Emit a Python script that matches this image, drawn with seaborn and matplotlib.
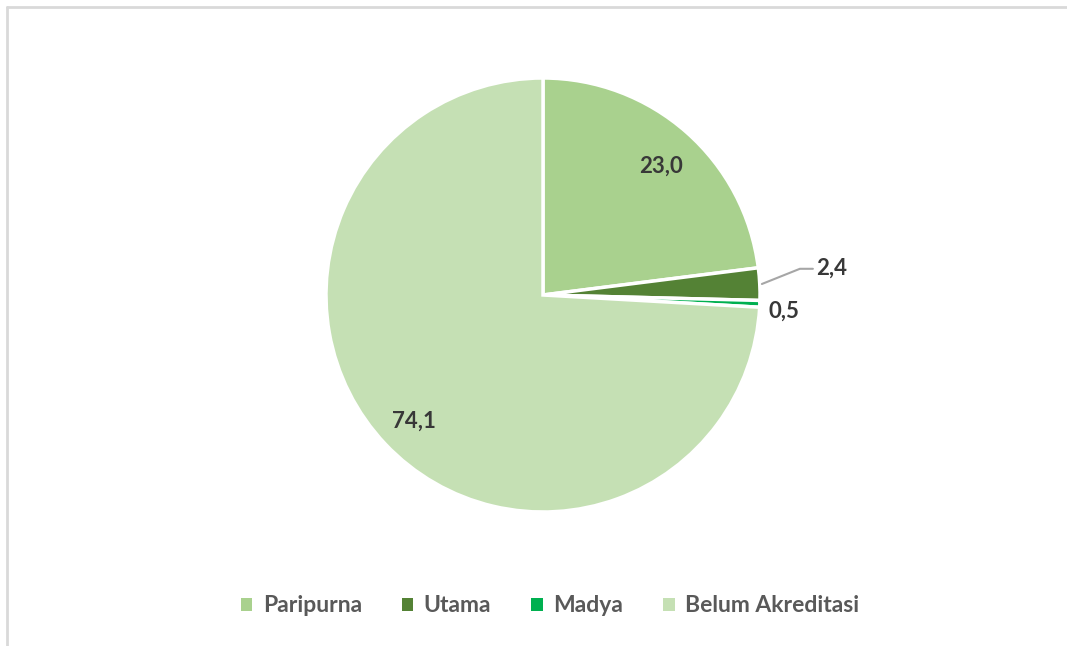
import numpy as np
import matplotlib
matplotlib.use("Agg")
import matplotlib.pyplot as plt
import seaborn as sns
from matplotlib.lines import Line2D
from matplotlib.patches import Patch

categories = ["Paripurna", "Utama", "Madya", "Belum Akreditasi"]
values = [23.0, 2.4, 0.5, 74.1]
value_labels = ["23,0", "2,4", "0,5", "74,1"]
colors = ["#A9D18E", "#548235", "#00B050", "#C5E0B4"]

sns.set_theme(style="white")
plt.rcParams['font.family'] = ['Lato', 'DejaVu Sans']

W, H = 1067, 646
fig = plt.figure(figsize=(W / 100, H / 100), dpi=100)
cx, cy, r = 543, 295, 217
ax = fig.add_axes([(cx - r) / W, (H - cy - r) / H, 2 * r / W, 2 * r / H])

wedges, _ = ax.pie(values, colors=colors, startangle=90, counterclock=False,
                   wedgeprops=dict(edgecolor="white", linewidth=2.5))
ax.set_xlim(-1, 1)
ax.set_ylim(-1, 1)
ax.set_aspect("equal")
ax.axis("off")

txt_kw = dict(fontsize=16, fontweight="bold", color="#383838")
for i, w in enumerate(wedges):
    ang = np.deg2rad((w.theta1 + w.theta2) / 2)
    ca, sa = np.cos(ang), np.sin(ang)
    if values[i] > 10:
        d = 0.82
        ax.text(d * ca, d * sa - 0.02, value_labels[i], ha="center", va="center", **txt_kw)
    elif i == 1:
        # leader line
        p0 = (1.01 * ca, 1.01 * sa)
        p1 = (p0[0] + 0.175, p0[1] + 0.07)
        p2 = (p1[0] + 0.06, p1[1])
        ax.plot([p0[0], p1[0], p2[0]], [p0[1], p1[1], p2[1]], color="#A6A6A6",
                lw=1.5, clip_on=False)
        ax.text(p2[0] + 0.015, p2[1] + 0.005, value_labels[i], ha="left", va="center", **txt_kw)
    else:
        ax.text(1.04 * ca, 1.04 * sa - 0.03, value_labels[i], ha="left", va="center", **txt_kw)

handles = [Patch(facecolor=c, edgecolor="none") for c in colors]
leg = fig.legend(handles, categories, loc="center", bbox_to_anchor=(550 / W, 1 - 606 / H),
                 ncol=4, frameon=False, handlelength=0.5, handleheight=0.5,
                 handletextpad=0.45, columnspacing=1.75,
                 prop=dict(family=['Lato', 'DejaVu Sans'], size=16.5, weight="bold"))
for t in leg.get_texts():
    t.set_color("#595959")

# outer frame lines (top and left)
fig.add_artist(Line2D([7 / W, 1], [1 - 7 / H, 1 - 7 / H], color="#D9D9D9", lw=2,
                      transform=fig.transFigure))
fig.add_artist(Line2D([7 / W, 7 / W], [0, 1 - 7 / H], color="#D9D9D9", lw=2,
                      transform=fig.transFigure))

fig.savefig("out.png", dpi=100, facecolor="white")
